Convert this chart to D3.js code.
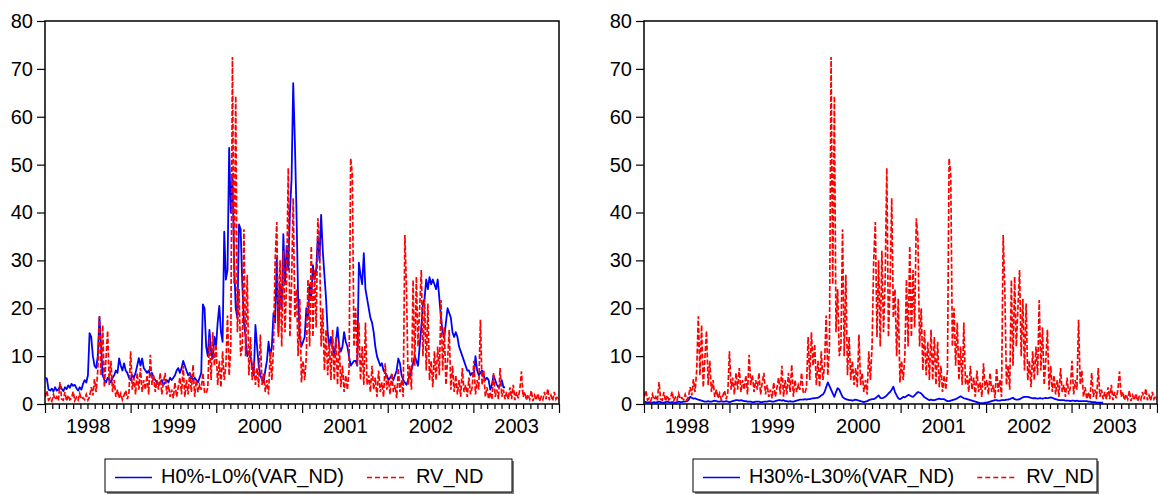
<!DOCTYPE html>
<html>
<head>
<meta charset="utf-8">
<script src="https://cdn.jsdelivr.net/npm/d3@7"></script>
<style>
  body { margin: 0; background: #fff; }
  svg { display: block; }
  text { font-family: "Liberation Sans", Arial, sans-serif; fill: #000; }
</style>
</head>
<body>
<svg id="chart" width="1158" height="495"></svg>
<script>
// ── Data (weekly observations, first week 1998-01-02, one row ≈ one quarter) ──
const START_DATE = '1998-01-02';
const STEP_DAYS  = 7;

const rvND = [
  1.5, 2.8, 0.8, 1.2, 0.6, 2.0, 0.9, 1.5, 0.7, 4.6, 1.0, 0.8, 2.5,
  0.6, 1.8, 0.9, 1.2, 2.6, 0.7, 1.4, 0.8, 2.2, 1.0, 1.3, 0.9, 2.0,
  0.8, 1.5, 3.5, 1.8, 5.2, 2.5, 7.0, 18.3, 6, 16.5, 3.5, 9.5, 15.3,
  4, 9, 2.5, 5, 1.5, 3.0, 1.2, 2.2, 0.9, 1.8, 2.8, 1.0, 2.4,
  11, 3, 5.5, 2, 6.5, 3, 7.5, 2.5, 5, 3, 6, 2, 10.3,
  4, 6, 2.5, 5, 3, 6.5, 2, 4.5, 6.5, 2, 4, 1.5, 3,
  1.2, 4.5, 1.5, 3.5, 5.5, 2, 8, 1.5, 5, 2, 6.5, 2.5, 8.2,
  1.5, 5, 2.5, 4, 3, 6.5, 2.5, 2.2, 3.5, 14, 5, 15, 8,
  12.5, 4, 9, 3.5, 11, 5, 8, 18.5, 6, 12, 72.5, 25, 64.3,
  15, 24, 10, 12, 36.5, 10, 27, 6, 14, 5, 9, 4, 7.5,
  3.5, 14.5, 4, 6.5, 2.5, 5, 2, 11, 5, 12, 30, 38, 14,
  30, 12, 32, 15, 26, 49.3, 14, 25, 43, 18, 24, 10, 22,
  4.5, 9, 5, 10, 26, 12, 33, 14, 28, 16, 38.8, 34.5, 12,
  20, 7, 15.5, 6, 13, 5, 15.5, 5, 14, 4, 13, 3.5, 8,
  2.5, 6, 3, 7, 51.3, 48, 12, 20, 8, 17, 5, 12, 4,
  17, 4, 6, 2.5, 8, 3, 5.5, 1.5, 7, 2.5, 4.5, 1.5, 8.5,
  3, 5, 2, 6.5, 2.5, 4, 1.2, 7.5, 2.5, 5, 1.5, 35.3, 24,
  4, 8, 3, 25.9, 8, 26.6, 12, 20, 28, 10, 22, 7, 21,
  5, 9, 3.5, 11, 5, 12, 6, 21.7, 7, 16, 4, 9, 15.5,
  3, 8, 2.5, 6, 2, 5, 1.5, 7.5, 2.5, 4, 1.5, 5.5, 2,
  3.5, 9, 2, 5, 3, 17.6, 4, 7, 1.5, 3.5, 1, 2.5, 1,
  6.5, 1.5, 3, 1, 7.5, 1.5, 3, 1, 2.5, 1, 3.5, 1, 4,
  0.8, 2.5, 1.2, 3, 6.8, 1.5, 2.5, 0.8, 2, 1, 2.8, 0.6, 1.8,
  0.8, 2.2, 0.6, 1.5, 0.9, 2.5, 1, 3.2, 0.8, 1.8, 0.7, 2.5, 1,
  1.6, 0.9
];

const h0VarND = [
  5.5, 5.3, 3, 2.8, 3.2, 2.6, 3.5, 2.8, 3.0, 3.8, 3.2, 2.7, 3.5,
  3.1, 3.9, 3.4, 4.2, 3.8, 4.0, 3.3, 2.8, 3.5, 3, 4.2, 5, 4.5,
  6, 14.8, 14, 10, 8, 7.5, 10, 18.2, 12, 6, 5, 4.5, 5.5,
  5, 4.5, 5.5, 6, 7, 6.5, 9.5, 8, 7, 8.5, 7, 6.5, 5.5,
  5, 6, 5.5, 6.5, 8, 9.6, 8, 9.5, 7.5, 7, 6.5, 7, 6,
  6.5, 5.5, 5, 4.5, 4, 4.5, 5, 4, 4.5, 5, 4.5, 5.5, 5,
  5.5, 6, 7, 7.5, 6.5, 7.5, 9, 8, 7, 6, 6.5, 5.5, 5,
  5.5, 5, 4.5, 5.5, 6.5, 20.8, 20, 12, 10, 15.5, 11, 9.5, 14,
  12, 17, 20.5, 15, 13, 36, 26, 28, 53.5, 40, 48, 30, 20,
  18, 37.5, 36.5, 25, 17, 14, 10, 11, 10, 8, 6, 16.5, 12,
  8, 6, 5, 4.5, 7, 9, 13, 10, 12, 19, 17, 30.5, 15,
  25, 20, 35.5, 25, 33, 28, 40, 47, 67, 55, 40, 22, 14,
  12, 13, 14, 20, 18, 25, 22, 29, 26, 28, 35, 30, 39.5,
  32, 27, 22, 15, 12, 14, 12, 10, 13, 16, 12, 11, 12,
  15, 13, 12, 10, 8, 8.5, 9, 9, 8, 29.5, 27, 25, 31.5,
  24, 22, 20, 18, 17, 15, 12, 10, 9, 8, 8.5, 7, 6.5,
  6, 5, 5.5, 6, 5, 6, 7, 9.5, 8.5, 6, 5, 4.5, 4,
  5, 6, 7, 8.5, 10, 9, 8, 12, 16, 21, 22, 26, 24,
  26.5, 25, 26, 25, 24, 26, 22, 18, 15, 14, 17, 20, 19,
  18, 15, 14, 15, 14, 12, 11, 10, 9, 8, 7, 7, 6,
  6.5, 6, 10, 7, 6, 6.5, 7, 6, 5, 5.5, 5, 3, 4,
  6, 5, 4, 3.5, 4, 5, 3.5, 3.5
];

const h30VarND = [
  0.5, 0.4, 0.3, 0.4, 0.3, 0.3, 0.4, 0.3, 0.4, 0.5, 0.4, 0.3, 0.3,
  0.4, 0.5, 0.4, 0.3, 0.4, 0.3, 0.3, 0.4, 0.5, 0.4, 0.4, 0.5, 0.5,
  0.6, 0.8, 1.5, 1.3, 1.1, 1.2, 1.0, 0.9, 0.8, 0.7, 0.6, 0.5, 0.5,
  0.6, 0.5, 0.5, 0.6, 0.7, 0.6, 0.5, 0.5, 0.6, 0.5, 0.5, 0.6, 0.5,
  0.4, 0.5, 0.6, 0.7, 0.8, 0.8, 0.7, 0.8, 0.7, 0.6, 0.6, 0.5, 0.5,
  0.5, 0.4, 0.4, 0.5, 0.5, 0.5, 0.4, 0.4, 0.5, 0.5, 0.5, 0.6, 0.6,
  0.5, 0.5, 0.6, 0.7, 0.8, 0.8, 0.7, 0.8, 0.6, 0.6, 0.5, 0.6, 0.5,
  0.5, 0.6, 0.7, 0.8, 0.9, 0.9, 0.9, 1.0, 0.9, 1.0, 1.0, 1.1, 1.2,
  1.2, 1.3, 1.3, 1.5, 1.8, 2.0, 2.5, 3.5, 4.5, 3.8, 3.0, 2.2, 1.5,
  2.5, 3.3, 3.0, 2.2, 1.5, 1.2, 1.0, 0.9, 0.8, 0.8, 0.7, 0.8, 0.9,
  0.8, 0.7, 0.6, 0.5, 0.4, 0.5, 0.6, 0.8, 0.9, 1.0, 1.0, 1.2, 1.5,
  1.8, 1.3, 1.2, 1.3, 1.5, 1.8, 2.2, 2.5, 3.0, 3.6, 2.5, 1.8, 1.2,
  1.0, 1.2, 1.5, 1.4, 1.6, 1.9, 1.8, 1.6, 1.5, 1.8, 2.2, 2.5, 2.4,
  2.2, 1.8, 1.4, 1.2, 1.0, 0.8, 0.9, 0.8, 0.8, 0.9, 1.0, 1.1, 1.0,
  1.0, 1.0, 0.8, 0.6, 0.6, 0.7, 0.8, 0.9, 1.0, 1.2, 1.4, 1.6, 1.4,
  1.2, 1.1, 1.0, 0.9, 0.8, 0.7, 0.6, 0.5, 0.4, 0.3, 0.2, 0.2, 0.2,
  0.3, 0.3, 0.4, 0.5, 0.6, 0.7, 0.8, 0.8, 0.7, 0.7, 0.8, 0.8, 0.8,
  0.9, 0.9, 1.0, 1.2, 1.3, 1.0, 0.9, 0.9, 1.0, 1.2, 1.4, 1.5, 1.5,
  1.5, 1.4, 1.3, 1.2, 1.2, 1.2, 1.1, 1.2, 1.2, 1.1, 1.2, 1.3, 1.2,
  1.3, 1.4, 1.3, 1.1, 1.0, 0.9, 0.8, 0.8, 0.8, 0.8, 0.7, 0.7, 0.7,
  0.6, 0.7, 0.7, 0.6, 0.7, 0.6, 0.6, 0.6, 0.6, 0.6, 0.6, 0.5, 0.5,
  0.4, 0.4, 0.4, 0.3, 0.3, 0.3, 0.3, 0.3
];

const yTicks     = [0, 10, 20, 30, 40, 50, 60, 70, 80];
const yearLabels = ['1998', '1999', '2000', '2001', '2002', '2003'];
const xDomain    = ['1998-01-01', '2004-01-01'];

const BLUE = '#0000ff';
const RED  = '#ff0000';

// ── Layout ───────────────────────────────────────────
const TOP = 21, BOTTOM = 404;
const panels = [
  { left: 45,  right: 559,  blue: h0VarND,  name: 'H0%-L0%(VAR_ND)',   legX: 105, legW: 407 },
  { left: 644, right: 1157, blue: h30VarND, name: 'H30%-L30%(VAR_ND)', legX: 693, legW: 404 },
];

const parse = d3.timeParse('%Y-%m-%d');
const t0 = parse(START_DATE);
const toPoints = vals => vals.map((v, i) => ({ date: d3.timeDay.offset(t0, i * STEP_DAYS), v }));

const svg = d3.select('#chart');

panels.forEach((p, pi) => {
  const x = d3.scaleTime().domain(xDomain.map(parse)).range([p.left, p.right]);
  const y = d3.scaleLinear().domain([0, 80]).range([BOTTOM, TOP]);

  const g = svg.append('g');

  // clip
  svg.append('clipPath').attr('id', 'clip' + pi)
    .append('rect')
      .attr('x', p.left).attr('y', TOP)
      .attr('width', p.right - p.left).attr('height', BOTTOM - TOP);

  // ── Y axis ──
  const yAxis = g.append('g')
    .attr('transform', `translate(${p.left},0)`)
    .call(d3.axisLeft(y).tickValues(yTicks).tickSize(8).tickPadding(4));
  yAxis.select('.domain').remove();
  yAxis.selectAll('line').attr('stroke', '#000').attr('stroke-width', 1.2);
  yAxis.selectAll('text')
    .attr('font-size', 20)
    .attr('font-family', '"Liberation Sans", Arial, sans-serif')
    .attr('fill', '#000');

  // ── X axis: monthly minor, yearly major, labels mid-year ──
  const months = d3.timeMonth.range(parse('1998-01-01'), parse('2004-01-02'));
  const minor = months.filter(d => d.getMonth() !== 0);
  const major = months.filter(d => d.getMonth() === 0);

  const xMinor = g.append('g')
    .attr('transform', `translate(0,${BOTTOM})`)
    .call(d3.axisBottom(x).tickValues(minor).tickSize(5).tickFormat(''));
  const xMajor = g.append('g')
    .attr('transform', `translate(0,${BOTTOM})`)
    .call(d3.axisBottom(x).tickValues(major).tickSize(9).tickFormat(''));
  [xMinor, xMajor].forEach(a => {
    a.select('.domain').remove();
    a.selectAll('line').attr('stroke', '#000').attr('stroke-width', 1.2);
  });

  const mid = yearLabels.map(yr => parse(yr + '-07-02'));
  const xLab = g.append('g')
    .attr('transform', `translate(0,${BOTTOM})`)
    .call(d3.axisBottom(x).tickValues(mid).tickSize(0).tickPadding(15)
      .tickFormat((d, i) => yearLabels[i]));
  xLab.select('.domain').remove();
  xLab.selectAll('text')
    .attr('font-size', 20)
    .attr('font-family', '"Liberation Sans", Arial, sans-serif')
    .attr('fill', '#000');

  // ── Series ──
  const line = d3.line().x(d => x(d.date)).y(d => y(d.v));
  const plot = g.append('g').attr('clip-path', `url(#clip${pi})`);

  plot.append('path')
    .datum(toPoints(p.blue))
    .attr('d', line)
    .attr('fill', 'none')
    .attr('stroke', BLUE)
    .attr('stroke-width', 1.8)
    .attr('stroke-linejoin', 'round');

  plot.append('path')
    .datum(toPoints(rvND))
    .attr('d', line)
    .attr('fill', 'none')
    .attr('stroke', RED)
    .attr('stroke-width', 1.7)
    .attr('stroke-dasharray', '5 2');

  // ── Frame ──
  g.append('rect')
    .attr('x', p.left).attr('y', TOP)
    .attr('width', p.right - p.left).attr('height', BOTTOM - TOP)
    .attr('fill', 'none')
    .attr('stroke', '#000')
    .attr('stroke-width', 1.5);

  // ── Legend ──
  const LY = 459, LH = 33;
  const leg = g.append('g');
  leg.append('rect')
    .attr('x', p.legX + 2).attr('y', LY + 2)
    .attr('width', p.legW).attr('height', LH)
    .attr('fill', '#808080');
  leg.append('rect')
    .attr('x', p.legX).attr('y', LY)
    .attr('width', p.legW).attr('height', LH)
    .attr('fill', '#fff').attr('stroke', '#000').attr('stroke-width', 1);

  const cy = LY + LH / 2 + 2;
  leg.append('line')
    .attr('x1', p.legX + 10).attr('x2', p.legX + 47)
    .attr('y1', cy).attr('y2', cy)
    .attr('stroke', BLUE).attr('stroke-width', 1.3);
  const t1 = leg.append('text')
    .attr('x', p.legX + 56).attr('y', LY + 24)
    .attr('font-size', 20)
    .text(p.name);
  const end1 = p.legX + 56 + t1.node().getComputedTextLength();
  leg.append('line')
    .attr('x1', end1 + 23).attr('x2', end1 + 60)
    .attr('y1', cy).attr('y2', cy)
    .attr('stroke', RED).attr('stroke-width', 1.3)
    .attr('stroke-dasharray', '5 3');
  leg.append('text')
    .attr('x', end1 + 72).attr('y', LY + 24)
    .attr('font-size', 20)
    .text('RV_ND');
});
</script>
</body>
</html>
